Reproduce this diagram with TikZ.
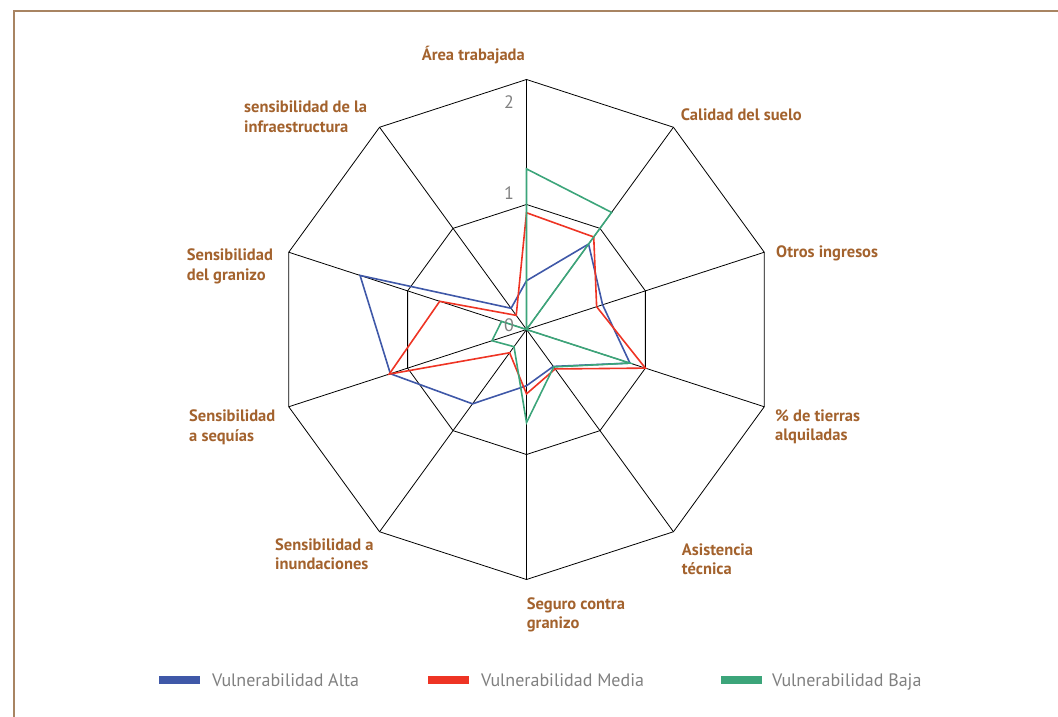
\documentclass[tikz,border=0pt]{standalone}
\usepackage{fontspec}
\setmainfont{PT Sans}
\usetikzlibrary{calc}
\definecolor{framec}{RGB}{168,132,98}
\definecolor{lblc}{RGB}{163,98,45}
\definecolor{altac}{RGB}{63,88,168}
\definecolor{mediac}{RGB}{238,52,36}
\definecolor{bajac}{RGB}{60,165,122}
\definecolor{greyc}{RGB}{128,128,128}
\newcommand{\twol}[2]{\begin{tabular}[t]{@{}l@{}}#1\\#2\end{tabular}}
\begin{document}
\begin{tikzpicture}[x=1pt,y=1pt,
  axlbl/.style={inner sep=0, text=lblc, font=\fontsize{16.5}{19.5}\selectfont\bfseries},
  ticklbl/.style={inner sep=0, text=greyc, font=\fontsize{18}{20}\selectfont, anchor=base},
  leg/.style={inner sep=0, text=greyc, font=\fontsize{18}{20}\selectfont, anchor=base west},
  swatch/.style={inner sep=0, minimum width=41pt, minimum height=8pt},
  gridline/.style={black, line width=0.8pt},
  series/.style={line width=1.6pt, line join=miter},
]
\useasboundingbox (0,-717) rectangle (1058,0);
\draw[framec, line width=1.5pt] (14,-717) -- (14,-11) -- (1058,-11);
\coordinate (C) at (526.5,-329.5);
\foreach \i in {0,...,9} {
  \coordinate (o\i) at ($(C)+({90-36*\i}:250)$);
  \coordinate (m\i) at ($(C)+({90-36*\i}:125)$);
  \draw[gridline] (C) -- (o\i);
}
\draw[gridline] (o0)--(o1)--(o2)--(o3)--(o4)--(o5)--(o6)--(o7)--(o8)--(o9)--cycle;
\draw[gridline] (m0)--(m1)--(m2)--(m3)--(m4)--(m5)--(m6)--(m7)--(m8)--(m9)--cycle;
% data
\foreach \v [count=\i from 0] in {0.39,0.845,0.64,0.87,0.365,0.45,0.735,1.145,1.40,0.21}
  \coordinate (a\i) at ($(C)+({90-36*\i}:{125*\v})$);
\foreach \v [count=\i from 0] in {0.934,0.915,0.59,1.0,0.39,0.515,0.23,1.155,0.73,0.14}
  \coordinate (r\i) at ($(C)+({90-36*\i}:{125*\v})$);
\foreach \v [count=\i from 0] in {1.285,1.158,0,0.87,0.37,0.745,0.17,0.29,0.21,0}
  \coordinate (b\i) at ($(C)+({90-36*\i}:{125*\v})$);
\draw[series, altac] (a0)--(a1)--(a2)--(a3)--(a4)--(a5)--(a6)--(a7)--(a8)--(a9)--cycle;
\draw[series, mediac] (r0)--(r1)--(r2)--(r3)--(r4)--(r5)--(r6)--(r7)--(r8)--(r9)--cycle;
\draw[series, bajac] (b0)--(b1)--(b2)--(b3)--(b4)--(b5)--(b6)--(b7)--(b8)--(b9)--cycle;
% ticks
\node[ticklbl] (t2) at (509,-109) {2};
\node[ticklbl] (t1) at (509,-199) {1};
\node[ticklbl] (t0) at (509,-331) {0};
% axis labels
\node[axlbl, anchor=base east] (l0) at (525,-60) {Área trabajada};
\node[axlbl, anchor=base west] (l1) at (680.7,-120.5) {Calidad del suelo};
\node[axlbl, anchor=base west] (l2) at (776,-257) {Otros ingresos};
\node[axlbl, anchor=base west] (l3) at (775,-421) {\twol{\% de tierras}{alquiladas}};
\node[axlbl, anchor=base west] (l4) at (681.7,-555) {\twol{Asistencia}{técnica}};
\node[axlbl, anchor=base west] (l5) at (526.7,-609) {\twol{Seguro contra}{granizo}};
\node[axlbl, anchor=base west] (l6) at (275,-550) {\twol{Sensibilidad a}{inundaciones}};
\node[axlbl, anchor=base west] (l7) at (189,-421.7) {\twol{Sensibilidad}{a sequías}};
\node[axlbl, anchor=base west] (l8) at (186.7,-260.7) {\twol{Sensibilidad}{del granizo}};
\node[axlbl, anchor=base west] (l9) at (244,-112.7) {\twol{sensibilidad de la}{infraestructura}};
% legend
\node[swatch, fill=altac] (s1) at (179.5,-680) {};
\node[leg] (g1) at (212,-686) {Vulnerabilidad Alta};
\node[swatch, fill=mediac] (s2) at (448.5,-680) {};
\node[leg] (g2) at (481,-686) {Vulnerabilidad Media};
\node[swatch, fill=bajac] (s3) at (741.5,-680) {};
\node[leg] (g3) at (772,-686) {Vulnerabilidad Baja};
\end{tikzpicture}
\end{document}
